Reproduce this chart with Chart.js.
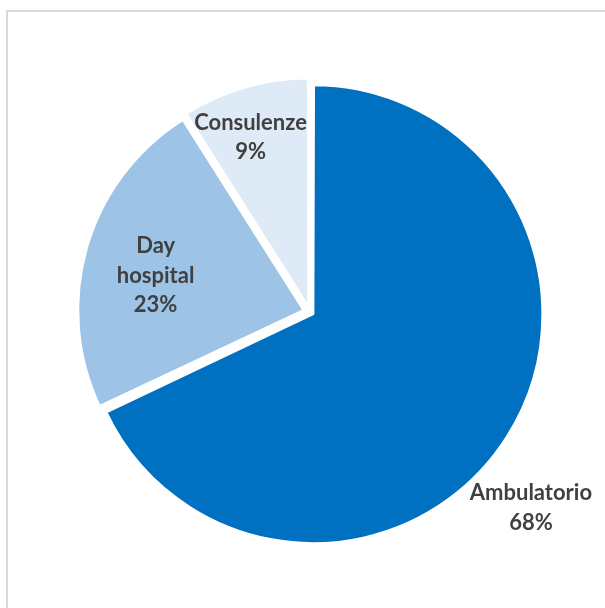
<!DOCTYPE html>
<html>
<head>
<meta charset="utf-8">
<script src="https://cdn.jsdelivr.net/npm/chart.js@4.4.1/dist/chart.umd.min.js"></script>
<style>
  html, body { margin: 0; padding: 0; background: #fff; overflow: hidden; }
  #frame {
    position: absolute; left: 6px; top: 10px; width: 700px; height: 700px;
    border-left: 2px solid #d9d9d9; border-top: 2px solid #d9d9d9;
  }
  #myChart { position: absolute; left: 0; top: 0; }
</style>
</head>
<body>
<div id="frame"></div>
<canvas id="myChart" width="605" height="608"></canvas>
<script>
// data
const categories = ['Ambulatorio', 'Day hospital', 'Consulenze'];
const shares = [68, 23, 9];
const sliceColors = ['#0070C0', '#9DC3E6', '#DEEBF7'];

// draws "name / xx%" for each slice, placed from the arc geometry
const sliceLabels = {
    id: 'sliceLabels',
    afterDatasetsDraw(chart, args, opts) {
        const ctx = chart.ctx;
        const meta = chart.getDatasetMeta(0);
        const values = chart.data.datasets[0].data;
        ctx.save();
        ctx.font = opts.font;
        ctx.fillStyle = opts.color;
        ctx.textAlign = 'center';
        ctx.textBaseline = 'middle';
        meta.data.forEach((arc, i) => {
            const p = arc.getProps(['x', 'y', 'startAngle', 'endAngle', 'outerRadius'], true);
            const mid = (p.startAngle + p.endAngle) / 2 + opts.angleShift[i] * Math.PI / 180;
            const r = p.outerRadius * opts.radius[i];
            const x = p.x + Math.cos(mid) * r;
            const y = p.y + Math.sin(mid) * r;
            const name = chart.data.labels[i];
            const lines = opts.wrap[i] ? name.split(' ') : [name];
            lines.push(values[i] + '%');
            lines.forEach((t, j) => {
                ctx.fillText(t, x, y + (j - (lines.length - 1) / 2) * opts.lineHeight);
            });
        });
        ctx.restore();
    }
};

const ctx = document.getElementById('myChart').getContext('2d');
const myChart = new Chart(ctx, {
    type: 'pie',
    data: {
        labels: categories,
        datasets: [{
            data: shares,
            backgroundColor: sliceColors,
            borderColor: '#ffffff',
            borderWidth: 2,
            offset: [16, 28, 24]
        }]
    },
    options: {
        responsive: false,
        animation: false,
        radius: 225,
        layout: { padding: { left: 15, top: 16, right: 0, bottom: 0 } },
        plugins: {
            legend: { display: false },
            tooltip: { enabled: false },
            sliceLabels: {
                font: 'bold 22px Lato',
                color: '#404040',
                lineHeight: 29.5,
                radius: [1.313, 0.705, 0.82],
                angleShift: [9.2, -2.9, -2.6],
                wrap: [false, true, false]
            }
        }
    },
    plugins: [sliceLabels]
});
</script>
</body>
</html>
